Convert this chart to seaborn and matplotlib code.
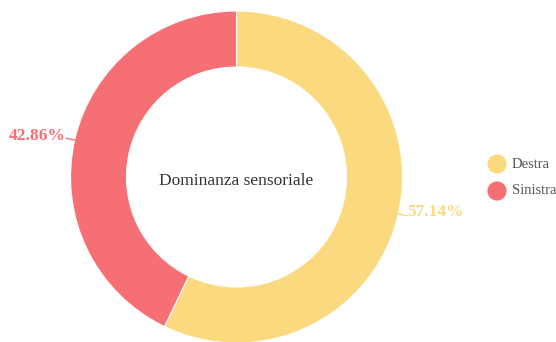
import numpy as np
import matplotlib
matplotlib.use("Agg")
import matplotlib.pyplot as plt
import seaborn as sns

# Sensory dominance shares
categories = ["Destra", "Sinistra"]
values = [57.14, 42.86]
colors = ["#FBD97F", "#F66F74"]
title = "Dominanza sensoriale"

sns.set_theme(style="white")
plt.rcParams["font.family"] = ["Liberation Serif", "DejaVu Serif"]

W, H = 556, 342
fig = plt.figure(figsize=(W / 100, H / 100), dpi=100)
ax = fig.add_axes([0, 0, 1, 1])

cx, cy = 236.5, H - 177
r_out, r_in = 166, 110

wedges, _ = ax.pie(values, colors=colors, startangle=90, counterclock=False,
                   radius=r_out, center=(cx, cy),
                   wedgeprops=dict(width=r_out - r_in, edgecolor="white", linewidth=0.8))

# pixel-like data coordinates (set after pie, which resets limits)
ax.set_xlim(0, W)
ax.set_ylim(0, H)
ax.set_aspect("equal")
ax.axis("off")

# percentage labels with short leader lines
total = sum(values)
start = 90.0
for v, col in zip(values, colors):
    sweep = 360.0 * v / total
    mid = np.deg2rad(start - sweep / 2)
    start -= sweep
    dx, dy = np.cos(mid), np.sin(mid)
    p1 = (cx + r_out * dx, cy + r_out * dy)
    p2 = (cx + (r_out + 7) * dx, cy + (r_out + 7) * dy)
    side = 1 if dx >= 0 else -1
    p3 = (p2[0] + 2 * side, p2[1])
    ax.plot([p1[0], p2[0], p3[0]], [p1[1], p2[1], p3[1]], color=col, lw=1)
    ax.text(p3[0], p3[1] + 3, f"{v:.2f}%", color=col,
            fontsize=12.5, fontweight="bold", ha="left" if side > 0 else "right",
            va="center")

# center title
ax.text(cx, cy - 4, title, ha="center", va="center", fontsize=12.5, color="#333333")

# legend
leg_x, leg_y0, leg_dy = 497, H - 164, 27
for i, (lab, col) in enumerate(zip(categories, colors)):
    y = leg_y0 - i * leg_dy
    ax.scatter([leg_x], [y], s=190, color=col, edgecolors="none")
    ax.text(leg_x + 15, y, lab, ha="left", va="center", fontsize=10.5, color="#555555")

fig.savefig("out.png", dpi=100, facecolor="white")
